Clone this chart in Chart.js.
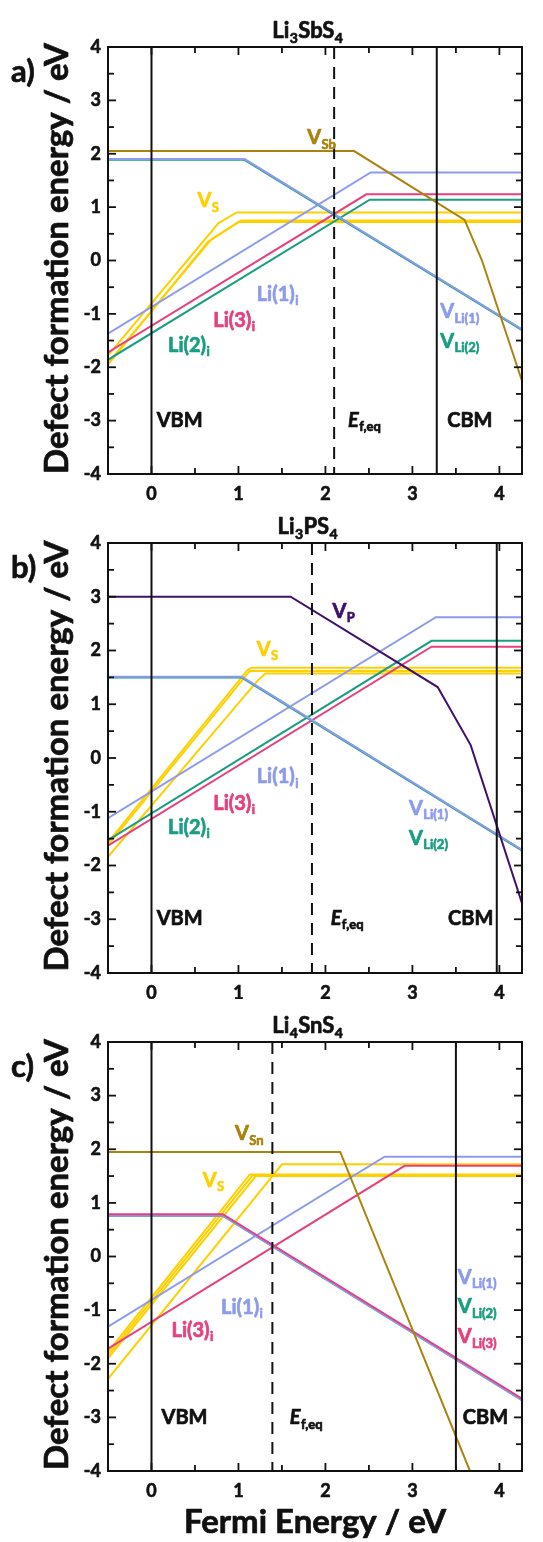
<!DOCTYPE html>
<html>
<head>
<meta charset="utf-8">
<script src="https://cdn.jsdelivr.net/npm/chart.js@4.4.1/dist/chart.umd.min.js"></script>
<style>
    html, body { margin: 0; padding: 0; background: #fff; }
    body { width: 543px; height: 1542px; position: relative; overflow: hidden; }
    canvas { position: absolute; left: 0; }
</style>
</head>
<body>
<canvas id="chartA" width="543" height="505" style="top:0"></canvas>
<canvas id="chartB" width="543" height="495" style="top:505px"></canvas>
<canvas id="chartC" width="543" height="542" style="top:1000px"></canvas>
<script>

// ejes
const xTicks = [0, 1, 2, 3, 4]
const yTicks = [-4, -3, -2, -1, 0, 1, 2, 3, 4]
const xMin = -0.5
const xMax = 4.26

// a) Li3SbS4  -> [energia de Fermi, energia de formacion]
const aVSb = [[-0.5, 2.05], [2.33, 2.05], [3.6, 0.76], [3.8, 0.0], [4.3, -2.45]]
const aVLi1 = [[-0.5, 1.9], [1.07, 1.9], [4.3, -1.33]]
const aVLi2 = [[-0.5, 1.89], [1.07, 1.89], [4.3, -1.34]]
const aLi1i = [[-0.5, -1.37], [2.52, 1.65], [4.3, 1.65]]
const aLi2i = [[-0.5, -1.86], [2.51, 1.14], [4.3, 1.14]]
const aLi3i = [[-0.5, -1.72], [2.47, 1.24], [4.3, 1.24]]
const aVS1 = [[-0.5, -1.78], [0.77, 0.70], [0.98, 0.90], [4.3, 0.90]]
const aVS2 = [[-0.5, -1.95], [0.65, 0.35], [1.0, 0.72], [4.3, 0.72]]
const aVS3 = [[-0.5, -1.92], [0.69, 0.40], [1.03, 0.75], [4.3, 0.75]]
const aEdges = [0, 3.28]
const aEf = 2.10

// b) Li3PS4
const bVP = [[-0.5, 3.0], [1.6, 3.0], [3.29, 1.32], [3.67, 0.24], [4.3, -2.9]]
const bVLi1 = [[-0.5, 1.51], [1.04, 1.51], [4.3, -1.75]]
const bVLi2 = [[-0.5, 1.5], [1.04, 1.5], [4.3, -1.76]]
const bLi1i = [[-0.5, -1.12], [3.27, 2.62], [4.3, 2.62]]
const bLi2i = [[-0.5, -1.53], [3.22, 2.18], [4.3, 2.18]]
const bLi3i = [[-0.5, -1.63], [3.22, 2.07], [4.3, 2.07]]
const bVS1 = [[-0.5, -1.57], [1.1, 1.63], [1.15, 1.68], [4.3, 1.68]]
const bVS2 = [[-0.5, -1.62], [1.13, 1.62], [4.3, 1.62]]
const bVS3 = [[-0.5, -1.84], [1.22, 1.44], [1.31, 1.57], [4.3, 1.57]]
const bEdges = [0, 3.97]
const bEf = 1.845

// c) Li4SnS4
const cVSn = [[-0.5, 1.95], [2.17, 1.95], [3.9, -4.95]]
const cVLi1 = [[-0.5, 0.76], [0.82, 0.76], [4.3, -2.72]]
const cVLi2 = [[-0.5, 0.765], [0.82, 0.765], [4.3, -2.715]]
const cVLi3 = [[-0.5, 0.79], [0.82, 0.79], [4.3, -2.69]]
const cLi1i = [[-0.5, -1.31], [2.68, 1.86], [4.3, 1.86]]
const cLi3i = [[-0.5, -1.72], [2.91, 1.69], [4.3, 1.69]]
const cVS1 = [[-0.5, -1.78], [1.13, 1.53], [4.3, 1.53]]
const cVS2 = [[-0.5, -1.84], [1.16, 1.51], [4.3, 1.51]]
const cVS3 = [[-0.5, -1.9], [1.2, 1.5], [4.3, 1.5]]
const cVS4 = [[-0.5, -2.28], [1.5, 1.72], [4.3, 1.72]]
const cEdges = [0, 3.5]
const cEf = 1.39

// colores
const gold = '#FFD000'
const brown = '#AB820D'
const purple = '#40106E'
const blue = '#8D9BEE'
const teal = '#1A9E83'
const pink = '#E5417F'
const black = '#111'

const FONT = 'Lato'
const STROKE = 0.7   // engorda un poco el texto


// texto con subindices:  'V_{Sb}'
const splitText = s => {
    const out = []
    const re = /_\{([^}]*)\}|[^_]+/g
    let m
    while ((m = re.exec(s))) out.push(m[1] !== undefined ? { t: m[1], sub: true } : { t: m[0], sub: false })
    return out
}

const boldText = (ctx, t, x, y, color) => {
    ctx.fillStyle = color
    ctx.strokeStyle = color
    ctx.lineWidth = STROKE
    ctx.lineJoin = 'round'
    ctx.fillText(t, x, y)
    ctx.strokeText(t, x, y)
}

const richText = (ctx, x, y, s, color, size, italic, center) => {
    const parts = splitText(s)
    const fMain = `${italic ? 'italic ' : ''}bold ${size}px ${FONT}`
    const fSub = `bold ${Math.round(size * 0.63)}px ${FONT}`
    let w = 0
    parts.forEach(p => {
        ctx.font = p.sub ? fSub : fMain
        p.w = ctx.measureText(p.t).width
        w += p.w
    })
    let cx = center ? x - w / 2 : x
    ctx.textAlign = 'left'
    ctx.textBaseline = 'alphabetic'
    parts.forEach(p => {
        ctx.font = p.sub ? fSub : fMain
        boldText(ctx, p.t, cx, p.sub ? y + size * 0.22 : y, color)
        cx += p.w + 0.4
    })
}

const fitSize = (ctx, text, target) => {
    ctx.font = `bold 30px ${FONT}`
    return 30 * target / ctx.measureText(text).width
}


const panelPlugin = p => ({
    id: 'panel',
    afterDatasetsDraw(chart) {
        const { ctx, chartArea: a, scales: { x, y } } = chart
        ctx.save()
        ctx.beginPath()
        ctx.rect(a.left, a.top, a.width, a.height)
        ctx.clip()
        ctx.strokeStyle = black
        ctx.lineWidth = 2
        p.edges.forEach(v => {
            const px = x.getPixelForValue(v)
            ctx.beginPath(); ctx.moveTo(px, a.top); ctx.lineTo(px, a.bottom); ctx.stroke()
        })
        ctx.setLineDash([12, 8])
        const pe = x.getPixelForValue(p.ef)
        ctx.beginPath(); ctx.moveTo(pe, a.top); ctx.lineTo(pe, a.bottom); ctx.stroke()
        ctx.restore()

        ctx.save()
        p.labels.forEach(l => {
            richText(ctx, x.getPixelForValue(l.x), y.getPixelForValue(l.y) + 7, l.t, l.c || black, 20, l.italic, false)
        })
        ctx.restore()
    },
    afterDraw(chart) {
        const { ctx, chartArea: a, scales: { x, y } } = chart
        ctx.save()
        ctx.strokeStyle = black
        ctx.lineWidth = 2
        ctx.strokeRect(a.left, a.top, a.width, a.height)

        // ticks hacia dentro
        ctx.lineWidth = 1.8
        const tick = (x1, y1, x2, y2) => { ctx.beginPath(); ctx.moveTo(x1, y1); ctx.lineTo(x2, y2); ctx.stroke() }
        const minorX = xTicks.slice(0, -1).map((v, i) => (v + xTicks[i + 1]) / 2)
        const minorY = yTicks.slice(0, -1).map((v, i) => (v + yTicks[i + 1]) / 2)
        xTicks.forEach(v => { const px = x.getPixelForValue(v); tick(px, a.bottom, px, a.bottom - 8); tick(px, a.top, px, a.top + 8) })
        minorX.forEach(v => { const px = x.getPixelForValue(v); tick(px, a.bottom, px, a.bottom - 6); tick(px, a.top, px, a.top + 6) })
        yTicks.forEach(v => { const py = y.getPixelForValue(v); tick(a.left, py, a.left + 8, py); tick(a.right, py, a.right - 8, py) })
        minorY.forEach(v => { const py = y.getPixelForValue(v); tick(a.left, py, a.left + 6, py); tick(a.right, py, a.right - 6, py) })

        // titulo
        richText(ctx, 307, a.top - 9, p.title, black, 22, false, true)

        // letra del panel
        ctx.font = `bold 31px ${FONT}`
        ctx.textAlign = 'left'
        ctx.textBaseline = 'alphabetic'
        boldText(ctx, p.letter, 11, a.top + 35, black)

        // titulo eje y
        const yTitle = 'Defect formation energy / eV'
        const size = fitSize(ctx, yTitle, 431)
        ctx.font = `bold ${size}px ${FONT}`
        ctx.save()
        ctx.translate(68, (a.top + a.bottom) / 2 - 2)
        ctx.rotate(-Math.PI / 2)
        ctx.textAlign = 'center'
        boldText(ctx, yTitle, 0, 0, black)
        ctx.restore()

        if (p.xTitle) {
            ctx.textAlign = 'center'
            boldText(ctx, 'Fermi Energy / eV', (a.left + a.right) / 2, a.bottom + 62, black)
        }
        ctx.restore()
    }
})


const drawPanel = p => {

    const tickFont = { family: FONT, weight: 'bold', size: 18 }

    const data = {
        datasets: p.series.map(s => ({
            data: s.data.map(([x, y]) => ({ x, y })),
            borderColor: s.color,
            borderWidth: s.width || 2,
            pointRadius: 0,
            fill: false,
            tension: 0
        }))
    }

    const tickStyle = { font: tickFont, color: black, textStrokeColor: black, textStrokeWidth: 0.6, autoSkip: false }

    const options = {
        responsive: false,
        animation: false,
        events: [],
        devicePixelRatio: 1,
        layout: { padding: { top: p.top, left: 0, right: 21, bottom: p.padBottom } },
        plugins: {
            legend: { display: false },
            tooltip: { enabled: false }
        },
        scales: {
            x: {
                type: 'linear',
                min: xMin,
                max: xMax,
                grid: { display: false, drawTicks: false },
                border: { display: false },
                ticks: { ...tickStyle, padding: 9, maxRotation: 0 },
                afterBuildTicks: s => { s.ticks = xTicks.map(value => ({ value })) },
                afterFit: s => { s.height = p.xAxisH }
            },
            y: {
                type: 'linear',
                min: -4,
                max: 4,
                grid: { display: false, drawTicks: false },
                border: { display: false },
                ticks: { ...tickStyle, padding: 7 },
                afterBuildTicks: s => { s.ticks = yTicks.map(value => ({ value })) },
                afterFit: s => { s.width = 108 }
            }
        }
    }

    new Chart(p.id, {
        type: 'line',
        data,
        options,
        plugins: [panelPlugin(p)]
    })
}


// el primer dataset queda encima
drawPanel({
    id: 'chartA', top: 47, padBottom: 1, xAxisH: 30,
    letter: 'a)', title: 'Li_{3}SbS_{4}',
    edges: aEdges, ef: aEf,
    series: [
        { data: aVSb, color: brown },
        { data: aVLi1, color: blue },
        { data: aVLi2, color: teal, width: 2.4 },
        { data: aLi1i, color: blue },
        { data: aLi3i, color: pink },
        { data: aLi2i, color: teal },
        { data: aVS1, color: gold },
        { data: aVS2, color: gold },
        { data: aVS3, color: gold }
    ],
    labels: [
        { t: 'V_{Sb}', x: 1.79, y: 2.31, c: brown },
        { t: 'V_{S}', x: 0.53, y: 1.13, c: gold },
        { t: 'Li(1)_{i}', x: 1.21, y: -0.62, c: blue },
        { t: 'Li(3)_{i}', x: 0.71, y: -1.11, c: pink },
        { t: 'Li(2)_{i}', x: 0.19, y: -1.58, c: teal },
        { t: 'V_{Li(1)}', x: 3.32, y: -0.95, c: blue },
        { t: 'V_{Li(2)}', x: 3.32, y: -1.51, c: teal },
        { t: 'VBM', x: 0.06, y: -2.98 },
        { t: 'E_{f,eq}', x: 2.26, y: -2.98, italic: true },
        { t: 'CBM', x: 3.40, y: -2.98 }
    ]
})

drawPanel({
    id: 'chartB', top: 38, padBottom: 1, xAxisH: 26,
    letter: 'b)', title: 'Li_{3}PS_{4}',
    edges: bEdges, ef: bEf,
    series: [
        { data: bVP, color: purple },
        { data: bVLi1, color: blue },
        { data: bVLi2, color: teal, width: 2.4 },
        { data: bLi1i, color: blue },
        { data: bLi2i, color: teal },
        { data: bLi3i, color: pink },
        { data: bVS1, color: gold },
        { data: bVS2, color: gold },
        { data: bVS3, color: gold }
    ],
    labels: [
        { t: 'V_{P}', x: 2.08, y: 2.74, c: purple },
        { t: 'V_{S}', x: 1.21, y: 2.03, c: gold },
        { t: 'Li(1)_{i}', x: 1.21, y: -0.34, c: blue },
        { t: 'Li(3)_{i}', x: 0.71, y: -0.83, c: pink },
        { t: 'Li(2)_{i}', x: 0.19, y: -1.28, c: teal },
        { t: 'V_{Li(1)}', x: 2.96, y: -0.93, c: blue },
        { t: 'V_{Li(2)}', x: 2.96, y: -1.49, c: teal },
        { t: 'VBM', x: 0.06, y: -2.97 },
        { t: 'E_{f,eq}', x: 2.06, y: -2.97, italic: true },
        { t: 'CBM', x: 3.41, y: -2.97 }
    ]
})

drawPanel({
    id: 'chartC', top: 42, padBottom: 41, xAxisH: 30,
    letter: 'c)', title: 'Li_{4}SnS_{4}', xTitle: true,
    edges: cEdges, ef: cEf,
    series: [
        { data: cVSn, color: brown },
        { data: cVLi3, color: pink },
        { data: cVLi1, color: blue },
        { data: cVLi2, color: teal, width: 2.4 },
        { data: cLi1i, color: blue },
        { data: cLi3i, color: pink },
        { data: cVS1, color: gold },
        { data: cVS2, color: gold },
        { data: cVS3, color: gold },
        { data: cVS4, color: gold }
    ],
    labels: [
        { t: 'V_{Sn}', x: 0.96, y: 2.30, c: brown },
        { t: 'V_{S}', x: 0.59, y: 1.43, c: gold },
        { t: 'Li(1)_{i}', x: 0.80, y: -0.94, c: blue },
        { t: 'Li(3)_{i}', x: 0.23, y: -1.37, c: pink },
        { t: 'V_{Li(1)}', x: 3.52, y: -0.38, c: blue },
        { t: 'V_{Li(2)}', x: 3.52, y: -0.93, c: teal },
        { t: 'V_{Li(3)}', x: 3.52, y: -1.49, c: pink },
        { t: 'VBM', x: 0.115, y: -3.0 },
        { t: 'E_{f,eq}', x: 1.59, y: -3.0, italic: true },
        { t: 'CBM', x: 3.58, y: -3.0 }
    ]
})

</script>
</body>
</html>
